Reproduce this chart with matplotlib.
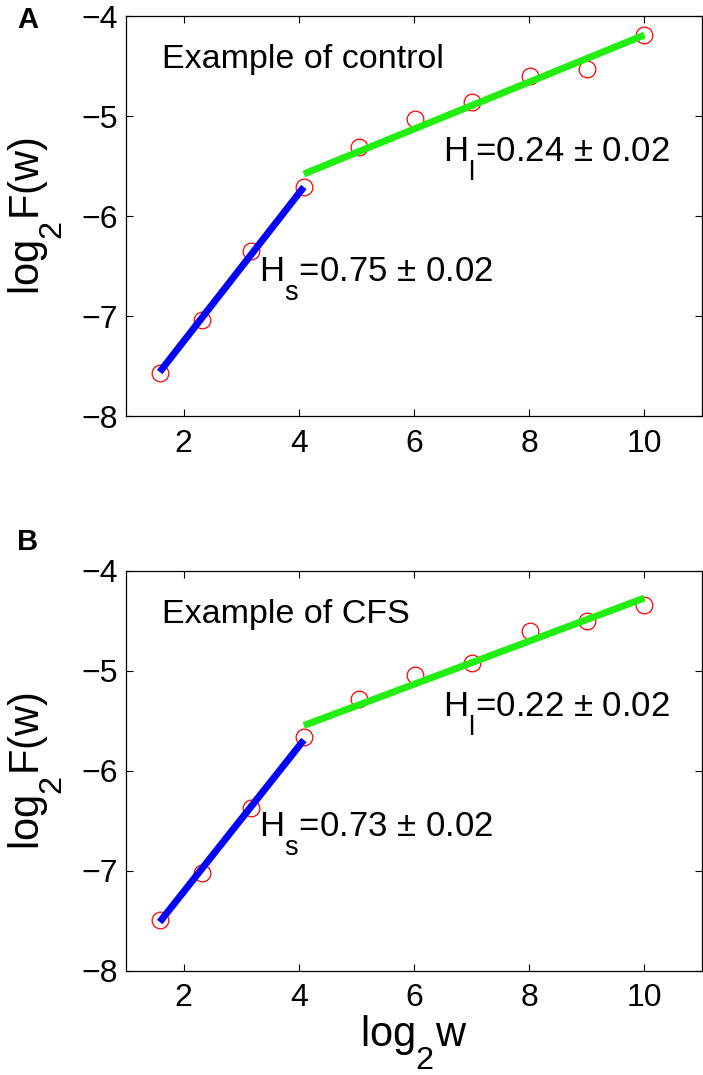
"""DFA scaling examples: log2 F(w) vs log2 w for a control and a CFS subject."""

import matplotlib

matplotlib.use("Agg")  # headless
import matplotlib.pyplot as plt  # noqa: E402
from matplotlib import _mathtext  # noqa: E402

plt.rcParams["font.family"] = ["Liberation Sans", "DejaVu Sans"]
plt.rcParams["mathtext.fontset"] = "custom"
plt.rcParams["mathtext.rm"] = "Liberation Sans"
plt.rcParams["mathtext.default"] = "regular"

# MATLAB-style subscripts: larger and dropped further below the baseline
_mathtext.SHRINK_FACTOR = 0.78
_mathtext.FontConstantsBase.sub1 = 1.0

# window sizes, log2 w
log2_w = [1.585, 2.322, 3.170, 4.087, 5.044, 6.022, 7.011, 8.006, 9.003, 10.001]

# fluctuation function, log2 F(w)
control_log2F = [-7.57, -7.04, -6.35, -5.71, -5.31, -5.03, -4.86, -4.60, -4.53, -4.19]
cfs_log2F = [-7.49, -7.02, -6.37, -5.66, -5.28, -5.04, -4.92, -4.60, -4.50, -4.34]

# fitted line end values (short-range and long-range regimes)
control_short_fit = [-7.56, -5.71]
control_long_fit = [-5.58, -4.19]
cfs_short_fit = [-7.51, -5.69]
cfs_long_fit = [-5.545, -4.27]

panels = [
    ("A", "Example of control", control_log2F, control_short_fit, control_long_fit,
     r"H$_s$=0.75 ± 0.02", r"H$_l$=0.24 ± 0.02"),
    ("B", "Example of CFS", cfs_log2F, cfs_short_fit, cfs_long_fit,
     r"H$_s$=0.73 ± 0.02", r"H$_l$=0.22 ± 0.02"),
]

W, H = 703, 1075
fig = plt.figure(figsize=(W / 100, H / 100), dpi=100)

ax_left = 126 / W
ax_width = (702 - 126) / W
ax_height = 400 / H
bottoms = [(H - 416) / H, (H - 971) / H]
letter_tops = [1 - 6 / H, 1 - 528 / H]

for i, (letter, title, ys, short_fit, long_fit, hs_txt, hl_txt) in enumerate(panels):
    ax = fig.add_axes([ax_left, bottoms[i], ax_width, ax_height])
    ax.plot(log2_w, ys, "o", mfc="none", mec="#ff0000", ms=12, mew=0.9, zorder=2)
    ax.plot([log2_w[0], log2_w[3]], short_fit, color="#0000ff", lw=5,
            solid_capstyle="butt", zorder=3)
    ax.plot([log2_w[3], log2_w[-1]], long_fit, color="#22ee11", lw=5,
            solid_capstyle="butt", zorder=3)

    ax.set_xlim(1, 11)
    ax.set_ylim(-8, -4)
    ax.set_xticks([2, 4, 6, 8, 10])
    ax.set_yticks([-8, -7, -6, -5, -4])
    ax.tick_params(direction="in", top=True, right=True, length=5, width=0.8,
                   labelsize=23)
    ax.tick_params(axis="x", pad=9)
    ax.tick_params(axis="y", pad=6)
    for sp in ax.spines.values():
        sp.set_linewidth(0.9)

    ax.text(1.63, -4.52, title, fontsize=24.5, va="baseline")
    ax.text(3.31, -6.65, hs_txt, fontsize=25, va="baseline")
    ax.text(6.51, -5.45, hl_txt, fontsize=25, va="baseline")

    ax.set_ylabel("log$_2$F(w)", fontsize=30)
    ax.yaxis.set_label_coords(-0.108, 0.5)
    if i == 1:
        ax.set_xlabel("log$_2$w", fontsize=30)
        ax.xaxis.set_label_coords(0.5, -0.105)

    fig.text(17 / W, letter_tops[i], letter, fontsize=21, fontweight="bold",
             va="top", ha="left")

fig.savefig("out.png", dpi=100)
plt.close(fig)
